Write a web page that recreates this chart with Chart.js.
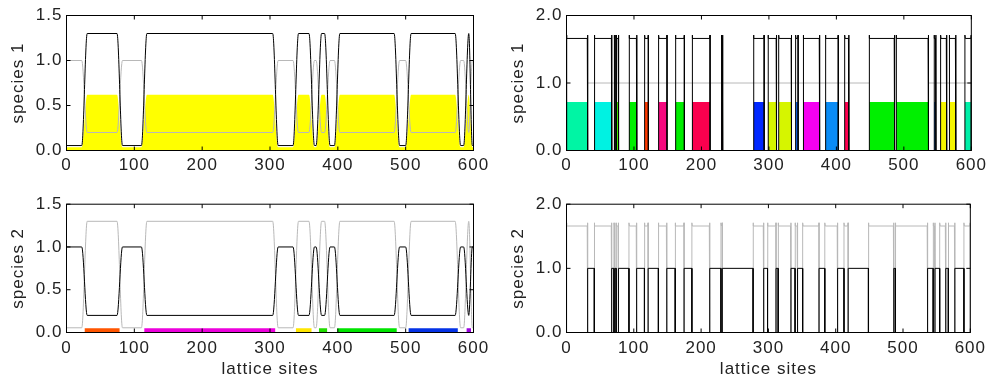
<!DOCTYPE html>
<html>
<head>
<meta charset="utf-8">
<script src="https://cdn.jsdelivr.net/npm/chart.js@4.4.1/dist/chart.umd.min.js"></script>
<style>
  html, body { margin: 0; padding: 0; background: #fff; }
  #wrap { position: relative; width: 990px; height: 380px; }
  canvas { position: absolute; }
</style>
</head>
<body>
<div id="wrap">
  <canvas id="tl" width="495" height="190" style="left:0;top:0"></canvas>
  <canvas id="tr" width="495" height="190" style="left:495px;top:0"></canvas>
  <canvas id="bl" width="495" height="190" style="left:0;top:190px"></canvas>
  <canvas id="br" width="495" height="190" style="left:495px;top:190px"></canvas>
</div>
<script>
/* ---- data ---- */
const xTicks = [0, 100, 200, 300, 400, 500, 600];
const leftYTicks = [0, 0.5, 1.0, 1.5];
const rightYTicks = [0, 1.0, 2.0];

// left model: domain walls, starting in a domain where species 1 is low
const leftWalls = [26.5, 78.5, 114.5, 308, 338, 361.5, 372, 384.5, 399, 487, 504, 577, 589.5, 596.5];
const leftSp1Level = [0.055, 1.3];      // [low domain, high domain]
const leftSp2Level = [1.0, 0.2];
const leftYellowLevel = [0.035, 0.62];
const leftStripLevel = 0.05;
const leftStripColors = ['#ff5500', '#ec00dc', '#ffe600', '#22dd00', '#00e400', '#0432e6', '#9a00e0'];

// right model: species-1 domains with their colours
const rightDomStart = [0, 41.3, 70.5, 73.8, 92.8, 115.8, 136.5, 161.5, 186.3, 229.5, 277.2, 298.7, 314.5, 339.6, 350.9, 383.8, 412.3, 448.6, 488.6, 544.8, 554.5, 567.3, 590.5];
const rightDomEnd   = [31.4, 67.1, 72, 77.2, 104.2, 121.3, 149, 174.7, 212.8, 231.5, 293, 311.3, 333.5, 343.3, 375.2, 402.8, 418.5, 486.3, 536.5, 547.5, 563.5, 577, 600];
const rightDomColors = ['#00f5a4', '#00f2e2', '#55ee00', '#44ee00', '#00ee00', '#ff3a00', '#f5087e', '#00ee00', '#fa004e', '#c000d8', '#0028ff', '#d6f500', '#d6f500', '#1468f0', '#f500f0', '#0a8cf5', '#ff0050', '#00f000', '#00f000', '#1478e6', '#f5f500', '#f5f500', '#00f0a8'];
const rightSp1Level = 1.66, rightSp1Tip = 1.71;
const rightFillLevel = 0.72;
const rightSp2Level = 1.0;
const rightRefStart = [31.4, 536.5];
const rightRefEnd = [448.6, 600];
const rightRefLevel = 1.0;

/* ---- styles ---- */
const TEXT = '#222';
const GRAY = '#b8b8b8';
const FONT = { family: "'Liberation Sans', Arial, sans-serif", size: 17 };
const TICK = 4;
const WALL = 4;   // half width of a smooth domain wall (left model)

/* ---- builders ---- */
function smoothProfile(walls, levels) {
  const edges = [0, ...walls, 600];
  const pts = [];
  for (let i = 0; i < edges.length - 1; i++) {
    const a = edges[i], b = edges[i + 1], v = levels[i % 2];
    const half = (b - a) / 2;
    const da = i === 0 ? 0 : Math.min(WALL, half);
    const db = i === edges.length - 2 ? 0 : Math.min(WALL, half);
    if (a + da < b - db) pts.push({ x: a + da, y: v }, { x: b - db, y: v });
    else pts.push({ x: (a + b) / 2, y: v });
  }
  return pts;
}

function spikeProfile(starts, ends, level, tip) {
  const pts = [];
  starts.forEach((a, i) => {
    const b = ends[i], m = (a + b) / 2;
    pts.push({ x: a, y: 0 }, { x: a, y: tip }, { x: Math.min(a + 0.6, m), y: level },
             { x: Math.max(b - 0.6, m), y: level }, { x: b, y: tip }, { x: b, y: 0 });
  });
  return pts;
}

function gapProfile(starts, ends, level) {
  const pts = [];
  for (let i = 0; i < starts.length - 1; i++) {
    const a = ends[i], b = starts[i + 1];
    pts.push({ x: a, y: 0 }, { x: a, y: level }, { x: b, y: level }, { x: b, y: 0 });
  }
  return pts;
}

function spans(starts, ends, level) {
  const pts = [];
  starts.forEach((a, i) => {
    if (i > 0) pts.push({ x: (ends[i - 1] + a) / 2, y: null });
    pts.push({ x: a, y: level }, { x: ends[i], y: level });
  });
  return pts;
}

const line = (data, color, order, smooth) => ({
  data, borderColor: color, borderWidth: 1, order, fill: false,
  cubicInterpolationMode: smooth ? 'monotone' : 'default', tension: 0, spanGaps: false
});

const block = (data, color, order, smooth) => ({
  data, borderWidth: 0, borderColor: 'rgba(0,0,0,0)', backgroundColor: color, fill: 'origin', order,
  cubicInterpolationMode: smooth ? 'monotone' : 'default', tension: 0
});

/* ---- plugins ---- */
const frameTicks = {
  id: 'frameTicks',
  afterDatasetsDraw(chart) {
    const { ctx, chartArea: a, scales: { x, y } } = chart;
    ctx.save();
    ctx.strokeStyle = '#000';
    ctx.lineWidth = 1;
    ctx.beginPath();
    x.ticks.forEach(t => {
      const px = x.getPixelForValue(t.value);
      ctx.moveTo(px, a.bottom); ctx.lineTo(px, a.bottom - TICK);
      ctx.moveTo(px, a.top); ctx.lineTo(px, a.top + TICK);
    });
    y.ticks.forEach(t => {
      const py = y.getPixelForValue(t.value);
      ctx.moveTo(a.left, py); ctx.lineTo(a.left + TICK, py);
      ctx.moveTo(a.right, py); ctx.lineTo(a.right - TICK, py);
    });
    ctx.stroke();
    ctx.strokeRect(a.left, a.top, a.right - a.left, a.bottom - a.top);
    ctx.restore();
  }
};

const spacing = { id: 'spacing', beforeDraw(chart) { chart.ctx.letterSpacing = '1px'; } };

function makeChart(id, datasets, c) {
  return new Chart(document.getElementById(id), {
    type: 'line',
    data: { datasets },
    options: {
      responsive: false, animation: false, events: [],
      layout: { padding: { top: c.padTop, right: c.padRight, left: 0, bottom: 0 } },
      plugins: { legend: { display: false }, tooltip: { enabled: false } },
      elements: { point: { radius: 0 } },
      scales: {
        x: {
          type: 'linear', min: 0, max: 600,
          afterBuildTicks: s => { s.ticks = xTicks.map(v => ({ value: v })); },
          ticks: { color: TEXT, font: FONT, padding: c.xPad, maxRotation: 0, autoSkip: false, callback: v => String(v) },
          grid: { display: false, drawTicks: false }, border: { display: false },
          title: { display: !!c.xTitle, text: c.xTitle || '', color: TEXT, font: FONT, padding: { top: 0, bottom: 0 } },
          afterFit: s => { s.height = c.xAxisH; }
        },
        y: {
          type: 'linear', min: 0, max: c.yMax,
          afterBuildTicks: s => { s.ticks = c.yTicks.map(v => ({ value: v })); },
          ticks: { color: TEXT, font: FONT, padding: 4, autoSkip: false, callback: v => Number(v).toFixed(1) },
          grid: { display: false, drawTicks: false }, border: { display: false },
          title: { display: true, text: c.yTitle, color: TEXT, font: FONT, padding: { top: c.yTitlePad, bottom: 0 } },
          afterFit: s => { s.width = c.axisW; }
        }
      }
    },
    plugins: [frameTicks, spacing]
  });
}

/* ---- panels ---- */
const leftDomains = [];
for (let i = 0; i < leftWalls.length; i += 2) leftDomains.push([leftWalls[i], leftWalls[i + 1]]);

makeChart('tl', [
  line(smoothProfile(leftWalls, leftSp1Level), '#000', 0, true),
  line(smoothProfile(leftWalls, leftSp2Level), GRAY, 1, true),
  block(smoothProfile(leftWalls, leftYellowLevel), '#ffff00', 2, true)
], { padTop: 15.5, padRight: 21.5, axisW: 66.5, xAxisH: 39.5, xPad: 4.5, yMax: 1.5, yTicks: leftYTicks, yTitle: 'species 1', yTitlePad: 8.6 });

makeChart('bl', [
  line(smoothProfile(leftWalls, leftSp2Level), '#000', 0, true),
  line(smoothProfile(leftWalls, leftSp1Level), GRAY, 1, true),
  ...leftDomains.map((d, i) => block([{ x: d[0], y: leftStripLevel }, { x: d[1], y: leftStripLevel }], leftStripColors[i], 2, false))
], { padTop: 12.5, padRight: 21.5, axisW: 66.5, xAxisH: 47.5, xPad: 5.5, yMax: 1.5, yTicks: leftYTicks, yTitle: 'species 2', yTitlePad: 8.6, xTitle: 'lattice sites' });

makeChart('tr', [
  line(spikeProfile(rightDomStart, rightDomEnd, rightSp1Level, rightSp1Tip), '#000', 0, false),
  line(spans(rightRefStart, rightRefEnd, rightRefLevel), GRAY, 1, false),
  ...rightDomStart.map((a, i) => block([{ x: a, y: rightFillLevel }, { x: rightDomEnd[i], y: rightFillLevel }], rightDomColors[i], 2, false))
], { padTop: 15.5, padRight: 16.5, axisW: 71.5, xAxisH: 39.5, xPad: 4.5, yMax: 2, yTicks: rightYTicks, yTitle: 'species 1', yTitlePad: 13.6 });

makeChart('br', [
  line(gapProfile(rightDomStart, rightDomEnd, rightSp2Level), '#000', 0, false),
  line(spikeProfile(rightDomStart, rightDomEnd, rightSp1Level, rightSp1Tip), GRAY, 1, false)
], { padTop: 12.5, padRight: 16.5, axisW: 71.5, xAxisH: 47.5, xPad: 5.5, yMax: 2, yTicks: rightYTicks, yTitle: 'species 2', yTitlePad: 13.6, xTitle: 'lattice sites' });
</script>
</body>
</html>
